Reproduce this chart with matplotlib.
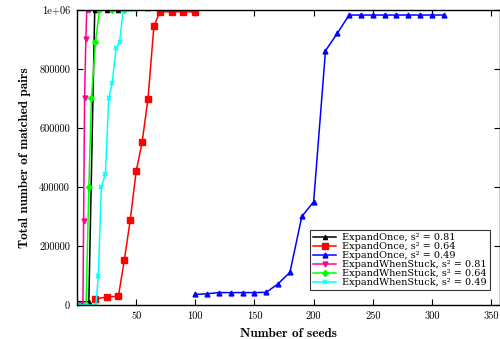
import matplotlib
matplotlib.use("Agg")
import matplotlib.pyplot as plt

plt.rcParams["mathtext.fontset"] = "cm"
plt.rcParams["font.family"] = "cmr10"
plt.rcParams["axes.formatter.use_mathtext"] = True

# ExpandOnce
x_once_81 = [0, 10, 15, 25, 35]
y_once_81 = [11000, 11000, 1000000, 1000000, 1000000]

x_once_64 = [15, 25, 35, 40, 45, 50, 55, 60, 65, 70, 80, 90, 100]
y_once_64 = [20000, 27000, 30000, 152000, 288000, 453000, 551000, 699000,
             945000, 994000, 994000, 994000, 993000]

x_once_49 = [100, 110, 120, 130, 140, 150, 160, 170, 180, 190, 200, 210, 220,
             230, 240, 250, 260, 270, 280, 290, 300, 310]
y_once_49 = [36000, 38000, 42000, 42000, 42000, 42000, 43000, 72000, 111000,
             300000, 350000, 862000, 921000, 983000, 983000, 983000, 983000,
             983000, 983000, 983000, 983000, 983000]

# ExpandWhenStuck
x_stuck_81 = [0, 5, 5.6, 6.4, 7.5, 8.2, 10.5]
y_stuck_81 = [0, 0, 286000, 700000, 902000, 1000000, 1000000]

x_stuck_64 = [0, 7.7, 10, 12.2, 15.6, 19, 30, 40]
y_stuck_64 = [0, 0, 400000, 700000, 890000, 1000000, 1000000, 1000000]

x_stuck_49 = [0, 8, 16, 18, 20.6, 24, 26.8, 29.7, 33, 36, 39, 45, 50, 60]
y_stuck_49 = [0, 0, 0, 99000, 400000, 444000, 700000, 751000, 870000,
              890000, 1000000, 1000000, 1000000, 1000000]

fig = plt.figure(figsize=(5, 3.39), dpi=100)
ax = fig.add_axes([0.154, 0.1003, 0.846, 0.8702])

lw = 1.1
ax.plot(x_once_81, y_once_81, color="black", marker="^", ms=3, lw=lw,
        label="ExpandOnce, s² = 0.81")
ax.plot(x_once_64, y_once_64, color="#ff0000", marker="s", ms=4, lw=lw,
        label="ExpandOnce, s² = 0.64")
ax.plot(x_once_49, y_once_49, color="#0000ff", marker="^", ms=3.5, lw=lw,
        label="ExpandOnce, s² = 0.49")
ax.plot(x_stuck_81, y_stuck_81, color="#ff0090", marker="v", ms=3.5, lw=lw,
        label="ExpandWhenStuck, s² = 0.81")
ax.plot(x_stuck_64, y_stuck_64, color="#00ff00", marker="D", ms=3, lw=lw,
        label="ExpandWhenStuck, s² = 0.64")
ax.plot(x_stuck_49, y_stuck_49, color="#00ffff", marker="x", ms=3.5, mew=1.2,
        lw=lw, label="ExpandWhenStuck, s² = 0.49")

ax.set_xlim(0, 357.5)
ax.set_ylim(0, 1000000)
ax.set_xticks([50, 100, 150, 200, 250, 300, 350])
ax.set_xticklabels(["50", "100", "150", "200", "250", "300", "350"])
ax.set_yticks([0, 200000, 400000, 600000, 800000, 1000000])
ax.set_yticklabels(["0", "200000", "400000", "600000", "800000", "1e+06"])
ax.tick_params(direction="in", top=True, right=True, length=4, width=0.8,
               labelsize=7.5, colors="black", pad=5)
for s in ax.spines.values():
    s.set_linewidth(1.0)

ax.set_xlabel("Number of seeds", fontsize=9.5, family="cmb10", labelpad=5)
ax.set_ylabel("Total number of matched pairs", fontsize=9.5, family="cmb10",
              labelpad=6)

leg = ax.legend(loc="lower right", bbox_to_anchor=(0.976, 0.05),
                prop={"family": ["DejaVu Serif"], "size": 7},
                frameon=True, fancybox=False, handlelength=2.4,
                labelspacing=0.0, borderpad=0.3, handletextpad=0.6,
                borderaxespad=0)
leg.get_frame().set_edgecolor("black")
leg.get_frame().set_linewidth(0.8)

fig.savefig("out.png", dpi=100)
